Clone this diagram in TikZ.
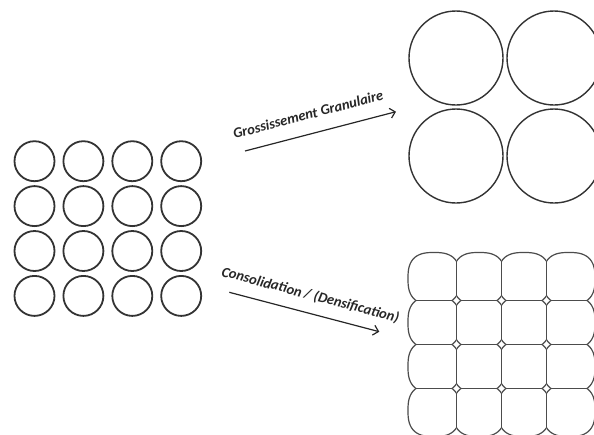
\documentclass[tikz,border=0pt]{standalone}
\usepackage{fontspec}
\setmainfont{Carlito}
\usetikzlibrary{arrows.meta}
\begin{document}
\begin{tikzpicture}[x=1pt,y=-1pt,
  smallgrain/.style={draw=black!80, line width=1.8pt},
  biggrain/.style={draw=black!80, line width=1.4pt},
  densegrain/.style={draw=black!70, line width=1.2pt},
  arr/.style={draw=black!85, line width=1.2pt, -{Straight Barb[length=5pt,width=10pt]}},
  lbl/.style={font=\fontsize{14.5}{16}\selectfont\bfseries\itshape, text=black!85, inner sep=0pt, text depth=0pt}]
\clip (0,0) rectangle (594,434);
% initial grains
\foreach \i in {0,...,3}{
  \foreach \j in {0,...,3}{
    \draw[smallgrain] ({34.5+48.9*\i},{161.2+44.9*\j}) circle [radius=20];
  }
}
% grain growth
\foreach \cx/\cy in {456/58, 554/58, 456/156, 554/156}{
  \draw[biggrain] (\cx,\cy) circle [radius=47];
}
% densified grains
\foreach \i in {0,...,3}{
  \foreach \j in {0,...,3}{
    \pgfmathsetmacro\cx{434+45*\i}
    \pgfmathsetmacro\cy{278.5+44*\j}
    \pgfmathsetmacro\xl{\i==0 ? -1000 : \cx-22.5}
    \pgfmathsetmacro\xr{\i==3 ? 2000 : \cx+22.5}
    \pgfmathsetmacro\yt{\j==0 ? -1000 : \cy-22}
    \pgfmathsetmacro\yb{\j==3 ? 2000 : \cy+22}
    \begin{scope}
      \clip (\xl,\yt) rectangle (\xr,\yb);
      \draw[densegrain] plot[domain=0.5:360.5, samples=145, variable=\t]
        ({\cx+26*cos(\t)*abs(cos(\t))^(-0.2647)}, {\cy+26*sin(\t)*abs(sin(\t))^(-0.2647)}) -- cycle;
    \end{scope}
  }
}
\foreach \k in {1,2,3}{
  \foreach \j in {0,...,3}{
    \draw[densegrain] ({411.5+45*\k},{278.5+44*\j-17.2}) -- ({411.5+45*\k},{278.5+44*\j+17.2});
    \draw[densegrain] ({434+45*\j-17.9},{256.5+44*\k}) -- ({434+45*\j+17.9},{256.5+44*\k});
  }
}
% arrows
\coordinate (a1s) at (245,151);
\coordinate (a1e) at (396,111.7);
\coordinate (a2s) at (229.3,292.3);
\coordinate (a2e) at (379.3,331.7);
\draw[arr] (a1s) -- node[lbl, sloped, pos=0.45, above=14pt] (t1) {Grossissement Granulaire} (a1e);
\draw[arr] (a2s) -- node[lbl, sloped, pos=0.51, above=13pt] (t2) {Consolidation / (Densification)} (a2e);
\end{tikzpicture}
\end{document}
